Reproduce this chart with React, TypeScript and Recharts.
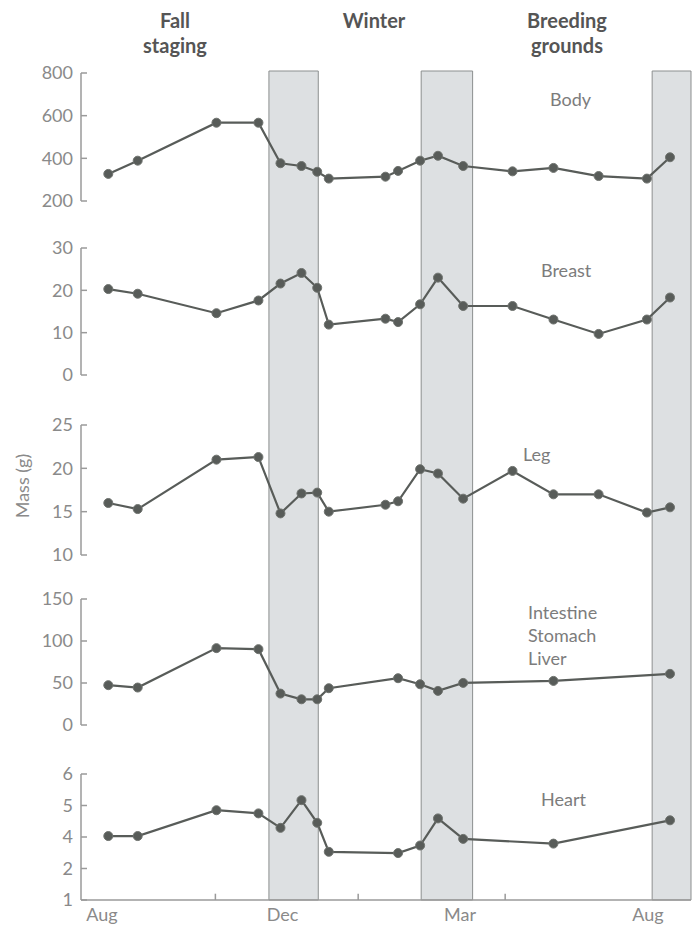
import { LineChart, Line, XAxis, YAxis, ReferenceArea, ReferenceLine } from "recharts";

// sampling dates, in weeks counted from early August
const sampleWeeks = [0.6, 3.4, 10.9, 14.9, 17.0, 19.0, 20.5, 21.6, 27.0, 28.2, 30.3, 32.0, 34.4, 39.1, 43.0, 47.3, 51.9, 54.1];

const body = [327, 389, 567, 567, 377, 364, 337, 305, 314, 341, 389, 412, 364, 339, 355, 317, 305, 405];
const breast = [20.3, 19.2, 14.6, 17.6, 21.6, 24.1, 20.6, 11.9, 13.3, 12.5, 16.7, 23.0, 16.3, 16.3, 13.1, 9.7, 13.1, 18.3];
const leg = [16.0, 15.3, 21.0, 21.3, 14.8, 17.1, 17.2, 15.0, 15.8, 16.2, 19.9, 19.4, 16.5, 19.7, 17.0, 17.0, 14.9, 15.5];
const gut = [47.4, 44.6, 91.5, 90.3, 37.4, 30.6, 30.6, 43.8, null, 55.7, 48.5, 40.6, 50.1, null, 52.5, null, null, 60.9];
// heart axis is printed 6,5,4,2,1 on evenly spaced ticks
const heart = [4.03, 4.03, 4.85, 4.75, 4.29, 5.17, 4.45, 3.53, null, 3.49, 3.73, 4.59, 3.94, null, 3.79, null, null, 4.53];
const heartTickLabels: Record<number, string> = { 2: "1", 3: "2", 4: "4", 5: "5", 6: "6" };

// shaded periods (weeks)
const shaded = [
  [15.9, 20.6],
  [30.4, 35.3],
  [52.4, 56.1],
];

const monthTicks = [0, 17.2, 34.1, 52];
const monthLabels = ["Aug", "Dec", "Mar", "Aug"];
const minorTicks = [10.8, 24.4, 38.4];

const seasons = [
  { label: ["Fall", "staging"], x: 175 },
  { label: ["Winter"], x: 374 },
  { label: ["Breeding", "grounds"], x: 567 },
];

const X_DOMAIN: [number, number] = [-2, 56.1];
const FONT = "Lato, 'Open Sans', sans-serif";
const AXIS = "#9a9a9a";
const TICK = "#8a8a8a";
const INK = "#585c59";
const W = 698;
const PAD = 16;

function YTick(props: any) {
  const { x, y, payload, fmt } = props;
  const label = fmt ? fmt(payload.value) : String(payload.value);
  return (
    <g>
      <line x1={x} x2={x + 6} y1={y} y2={y} stroke={AXIS} strokeWidth={1.5} />
      <text x={x - 8} y={y} dy="0.35em" textAnchor="end" fontSize={18} fill={TICK} fontFamily={FONT}>
        {label}
      </text>
    </g>
  );
}

interface PanelProps {
  values: (number | null)[];
  top: number;
  bottom: number;
  domain: [number, number];
  ticks: number[];
  fmt?: (v: number) => string;
  showX?: boolean;
}

function Panel(props: PanelProps) {
  const data = sampleWeeks.map((w, i) => ({ w, v: props.values[i] }));
  const xHeight = props.showX ? 30 : 0;
  const h = props.bottom - props.top + PAD + (props.showX ? xHeight : PAD);
  return (
    <div style={{ position: "absolute", left: 0, top: props.top - PAD }}>
      <LineChart width={W} height={h} data={data} margin={{ top: PAD, right: 7, bottom: props.showX ? 0 : PAD, left: 0 }}>
        <XAxis
          dataKey="w"
          type="number"
          domain={X_DOMAIN}
          ticks={monthTicks}
          tickFormatter={(v: number) => monthLabels[monthTicks.indexOf(v)]}
          hide={!props.showX}
          height={xHeight}
          tickLine={false}
          tickSize={0}
          tickMargin={8}
          axisLine={{ stroke: AXIS, strokeWidth: 1.5 }}
          tick={{ fontSize: 18, fill: TICK, fontFamily: FONT }}
          allowDataOverflow
        />
        <YAxis
          type="number"
          domain={props.domain}
          ticks={props.ticks}
          width={81}
          tickLine={false}
          tickSize={0}
          tickMargin={0}
          axisLine={{ stroke: AXIS, strokeWidth: 1.5 }}
          tick={<YTick fmt={props.fmt} />}
          allowDataOverflow
        />
        {props.showX &&
          minorTicks.map((t) => (
            <ReferenceLine
              key={t}
              segment={[
                { x: t, y: props.domain[0] },
                { x: t, y: props.domain[0] + 0.2 },
              ]}
              stroke={AXIS}
              strokeWidth={1.5}
            />
          ))}
        <Line
          dataKey="v"
          type="linear"
          stroke={INK}
          strokeWidth={2.2}
          connectNulls
          dot={{ r: 4.5, fill: INK, stroke: "#6f736f", strokeWidth: 1 }}
          isAnimationActive={false}
        />
      </LineChart>
    </div>
  );
}

const labelStyle: React.CSSProperties = {
  position: "absolute",
  fontFamily: FONT,
  fontSize: 18,
  color: "#7c7c7c",
  lineHeight: "23px",
  whiteSpace: "nowrap",
};

const bgData = [
  { w: X_DOMAIN[0], v: 0 },
  { w: X_DOMAIN[1], v: 1 },
];

export default function App() {
  return (
    <div style={{ position: "absolute", left: 0, top: 0, width: W, height: 930, background: "#fff" }}>
      <div style={{ position: "absolute", left: 0, top: 0 }}>
        <LineChart width={W} height={930} data={bgData} margin={{ top: 71, right: 7, bottom: 30, left: 81 }}>
          <XAxis dataKey="w" type="number" domain={X_DOMAIN} hide allowDataOverflow />
          <YAxis type="number" domain={[0, 1]} hide />
          {shaded.map(([a, b]) => (
            <ReferenceArea
              key={a}
              x1={a}
              x2={b}
              y1={0}
              y2={1}
              fill="#dde0e2"
              fillOpacity={1}
              stroke="#8c8f8f"
              strokeWidth={1}
              ifOverflow="visible"
            />
          ))}
          <Line dataKey="v" stroke="none" dot={false} isAnimationActive={false} />
        </LineChart>
      </div>

      {seasons.map((s) => (
        <div
          key={s.x}
          style={{
            position: "absolute",
            left: s.x - 80,
            width: 160,
            top: 8,
            textAlign: "center",
            fontFamily: FONT,
            fontWeight: 700,
            fontSize: 20,
            lineHeight: "25px",
            color: "#555",
          }}
        >
          {s.label.map((l) => (
            <div key={l}>{l}</div>
          ))}
        </div>
      ))}

      <Panel values={body} top={73} bottom={201} domain={[200, 800]} ticks={[200, 400, 600, 800]} />
      <Panel values={breast} top={248} bottom={375} domain={[0, 30]} ticks={[0, 10, 20, 30]} />
      <Panel values={leg} top={425} bottom={555} domain={[10, 25]} ticks={[10, 15, 20, 25]} />
      <Panel values={gut} top={599} bottom={725} domain={[0, 150]} ticks={[0, 50, 100, 150]} />
      <Panel
        values={heart}
        top={774}
        bottom={900}
        domain={[2, 6]}
        ticks={[2, 3, 4, 5, 6]}
        fmt={(v) => heartTickLabels[v]}
        showX
      />

      <div style={{ ...labelStyle, left: 550, top: 88 }}>Body</div>
      <div style={{ ...labelStyle, left: 541, top: 259 }}>Breast</div>
      <div style={{ ...labelStyle, left: 523, top: 443 }}>Leg</div>
      <div style={{ ...labelStyle, left: 528, top: 601 }}>
        Intestine
        <br />
        Stomach
        <br />
        Liver
      </div>
      <div style={{ ...labelStyle, left: 541, top: 788 }}>Heart</div>

      <div
        style={{
          ...labelStyle,
          left: 22,
          top: 486,
          transform: "translate(-50%, -50%) rotate(-90deg)",
          color: "#8a8a8a",
        }}
      >
        Mass (g)
      </div>
    </div>
  );
}
